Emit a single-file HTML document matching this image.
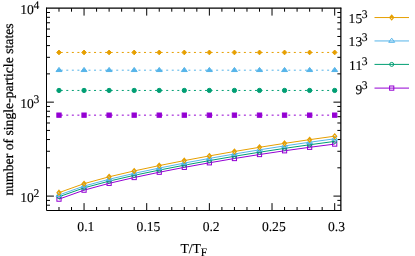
<!DOCTYPE html>
<html><head><meta charset="utf-8"><title>plot</title>
<style>
html,body{margin:0;padding:0;background:#fff;}
body{width:415px;height:256px;overflow:hidden;position:relative;}
.t{font-family:"Liberation Serif",serif;font-size:13.6px;text-rendering:geometricPrecision;fill:#000;stroke:#000;stroke-width:0.12px;}
.r{stroke-width:0.25px;font-size:13.7px;}
</style></head><body>
<svg width="415" height="256" viewBox="0 0 415 256" style="position:absolute;left:0;top:0;will-change:transform">
<path d="M58.99 210.5V207M58.99 8.2V11.7M71.52 210.5V207M71.52 8.2V11.7M84.05 210.5V203.1M84.05 8.2V15.6M96.58 210.5V207M96.58 8.2V11.7M109.11 210.5V207M109.11 8.2V11.7M121.65 210.5V207M121.65 8.2V11.7M134.18 210.5V207M134.18 8.2V11.7M146.71 210.5V203.1M146.71 8.2V15.6M159.24 210.5V207M159.24 8.2V11.7M171.77 210.5V207M171.77 8.2V11.7M184.31 210.5V207M184.31 8.2V11.7M196.84 210.5V207M196.84 8.2V11.7M209.37 210.5V203.1M209.37 8.2V15.6M221.9 210.5V207M221.9 8.2V11.7M234.43 210.5V207M234.43 8.2V11.7M246.97 210.5V207M246.97 8.2V11.7M259.5 210.5V207M259.5 8.2V11.7M272.03 210.5V203.1M272.03 8.2V15.6M284.56 210.5V207M284.56 8.2V11.7M297.09 210.5V207M297.09 8.2V11.7M309.63 210.5V207M309.63 8.2V11.7M322.16 210.5V207M322.16 8.2V11.7M334.69 210.5V203.1M334.69 8.2V15.6M46.5 205.2H50M340.85 205.2H337.35M46.5 200.4H50M340.85 200.4H337.35M46.5 196.1H53.9M340.85 196.1H333.45M46.5 167.82H50M340.85 167.82H337.35M46.5 151.27H50M340.85 151.27H337.35M46.5 139.54H50M340.85 139.54H337.35M46.5 130.43H50M340.85 130.43H337.35M46.5 122.99H50M340.85 122.99H337.35M46.5 116.7H50M340.85 116.7H337.35M46.5 111.25H50M340.85 111.25H337.35M46.5 106.45H50M340.85 106.45H337.35M46.5 102.15H53.9M340.85 102.15H333.45M46.5 73.87H50M340.85 73.87H337.35M46.5 57.32H50M340.85 57.32H337.35M46.5 45.59H50M340.85 45.59H337.35M46.5 36.48H50M340.85 36.48H337.35M46.5 29.04H50M340.85 29.04H337.35M46.5 22.75H50M340.85 22.75H337.35M46.5 17.3H50M340.85 17.3H337.35M46.5 12.5H50M340.85 12.5H337.35" fill="none" stroke="#000" stroke-width="1"/>
<clipPath id="c"><rect x="46.5" y="8.2" width="294.35" height="202.3"/></clipPath>
<path d="M58.99 115.15H334.69" stroke="#9400d3" stroke-width="1" stroke-dasharray="2 3.55" stroke-dashoffset="-1.75" fill="none"/>
<rect x="56.84" y="113" width="4.3" height="4.3" fill="#9400d3" stroke="#9400d3" stroke-width="1"/>
<rect x="81.9" y="113" width="4.3" height="4.3" fill="#9400d3" stroke="#9400d3" stroke-width="1"/>
<rect x="106.96" y="113" width="4.3" height="4.3" fill="#9400d3" stroke="#9400d3" stroke-width="1"/>
<rect x="132.03" y="113" width="4.3" height="4.3" fill="#9400d3" stroke="#9400d3" stroke-width="1"/>
<rect x="157.09" y="113" width="4.3" height="4.3" fill="#9400d3" stroke="#9400d3" stroke-width="1"/>
<rect x="182.16" y="113" width="4.3" height="4.3" fill="#9400d3" stroke="#9400d3" stroke-width="1"/>
<rect x="207.22" y="113" width="4.3" height="4.3" fill="#9400d3" stroke="#9400d3" stroke-width="1"/>
<rect x="232.28" y="113" width="4.3" height="4.3" fill="#9400d3" stroke="#9400d3" stroke-width="1"/>
<rect x="257.35" y="113" width="4.3" height="4.3" fill="#9400d3" stroke="#9400d3" stroke-width="1"/>
<rect x="282.41" y="113" width="4.3" height="4.3" fill="#9400d3" stroke="#9400d3" stroke-width="1"/>
<rect x="307.48" y="113" width="4.3" height="4.3" fill="#9400d3" stroke="#9400d3" stroke-width="1"/>
<rect x="332.54" y="113" width="4.3" height="4.3" fill="#9400d3" stroke="#9400d3" stroke-width="1"/>
<path d="M58.99 90.45H334.69" stroke="#009e73" stroke-width="1" stroke-dasharray="2 3.55" stroke-dashoffset="-1.75" fill="none"/>
<circle cx="58.99" cy="90.45" r="2.15" fill="#009e73" stroke="#009e73" stroke-width="1"/>
<circle cx="84.05" cy="90.45" r="2.15" fill="#009e73" stroke="#009e73" stroke-width="1"/>
<circle cx="109.11" cy="90.45" r="2.15" fill="#009e73" stroke="#009e73" stroke-width="1"/>
<circle cx="134.18" cy="90.45" r="2.15" fill="#009e73" stroke="#009e73" stroke-width="1"/>
<circle cx="159.24" cy="90.45" r="2.15" fill="#009e73" stroke="#009e73" stroke-width="1"/>
<circle cx="184.31" cy="90.45" r="2.15" fill="#009e73" stroke="#009e73" stroke-width="1"/>
<circle cx="209.37" cy="90.45" r="2.15" fill="#009e73" stroke="#009e73" stroke-width="1"/>
<circle cx="234.43" cy="90.45" r="2.15" fill="#009e73" stroke="#009e73" stroke-width="1"/>
<circle cx="259.5" cy="90.45" r="2.15" fill="#009e73" stroke="#009e73" stroke-width="1"/>
<circle cx="284.56" cy="90.45" r="2.15" fill="#009e73" stroke="#009e73" stroke-width="1"/>
<circle cx="309.63" cy="90.45" r="2.15" fill="#009e73" stroke="#009e73" stroke-width="1"/>
<circle cx="334.69" cy="90.45" r="2.15" fill="#009e73" stroke="#009e73" stroke-width="1"/>
<path d="M58.99 70.2H334.69" stroke="#56b4e9" stroke-width="1" stroke-dasharray="2 3.55" stroke-dashoffset="-1.75" fill="none"/>
<path d="M58.99 67.4L61.99 71.55L55.99 71.55Z" fill="#56b4e9" stroke="#56b4e9" stroke-width="1"/>
<path d="M84.05 67.4L87.05 71.55L81.05 71.55Z" fill="#56b4e9" stroke="#56b4e9" stroke-width="1"/>
<path d="M109.11 67.4L112.11 71.55L106.11 71.55Z" fill="#56b4e9" stroke="#56b4e9" stroke-width="1"/>
<path d="M134.18 67.4L137.18 71.55L131.18 71.55Z" fill="#56b4e9" stroke="#56b4e9" stroke-width="1"/>
<path d="M159.24 67.4L162.24 71.55L156.24 71.55Z" fill="#56b4e9" stroke="#56b4e9" stroke-width="1"/>
<path d="M184.31 67.4L187.31 71.55L181.31 71.55Z" fill="#56b4e9" stroke="#56b4e9" stroke-width="1"/>
<path d="M209.37 67.4L212.37 71.55L206.37 71.55Z" fill="#56b4e9" stroke="#56b4e9" stroke-width="1"/>
<path d="M234.43 67.4L237.43 71.55L231.43 71.55Z" fill="#56b4e9" stroke="#56b4e9" stroke-width="1"/>
<path d="M259.5 67.4L262.5 71.55L256.5 71.55Z" fill="#56b4e9" stroke="#56b4e9" stroke-width="1"/>
<path d="M284.56 67.4L287.56 71.55L281.56 71.55Z" fill="#56b4e9" stroke="#56b4e9" stroke-width="1"/>
<path d="M309.63 67.4L312.63 71.55L306.63 71.55Z" fill="#56b4e9" stroke="#56b4e9" stroke-width="1"/>
<path d="M334.69 67.4L337.69 71.55L331.69 71.55Z" fill="#56b4e9" stroke="#56b4e9" stroke-width="1"/>
<path d="M58.99 52.45H334.69" stroke="#e69f00" stroke-width="1" stroke-dasharray="2 3.55" stroke-dashoffset="-1.75" fill="none"/>
<path d="M58.99 50.05L61.29 52.45L58.99 54.85L56.69 52.45Z" fill="#e69f00" stroke="#e69f00" stroke-width="1"/>
<path d="M84.05 50.05L86.35 52.45L84.05 54.85L81.75 52.45Z" fill="#e69f00" stroke="#e69f00" stroke-width="1"/>
<path d="M109.11 50.05L111.41 52.45L109.11 54.85L106.81 52.45Z" fill="#e69f00" stroke="#e69f00" stroke-width="1"/>
<path d="M134.18 50.05L136.48 52.45L134.18 54.85L131.88 52.45Z" fill="#e69f00" stroke="#e69f00" stroke-width="1"/>
<path d="M159.24 50.05L161.54 52.45L159.24 54.85L156.94 52.45Z" fill="#e69f00" stroke="#e69f00" stroke-width="1"/>
<path d="M184.31 50.05L186.61 52.45L184.31 54.85L182.01 52.45Z" fill="#e69f00" stroke="#e69f00" stroke-width="1"/>
<path d="M209.37 50.05L211.67 52.45L209.37 54.85L207.07 52.45Z" fill="#e69f00" stroke="#e69f00" stroke-width="1"/>
<path d="M234.43 50.05L236.73 52.45L234.43 54.85L232.13 52.45Z" fill="#e69f00" stroke="#e69f00" stroke-width="1"/>
<path d="M259.5 50.05L261.8 52.45L259.5 54.85L257.2 52.45Z" fill="#e69f00" stroke="#e69f00" stroke-width="1"/>
<path d="M284.56 50.05L286.86 52.45L284.56 54.85L282.26 52.45Z" fill="#e69f00" stroke="#e69f00" stroke-width="1"/>
<path d="M309.63 50.05L311.93 52.45L309.63 54.85L307.33 52.45Z" fill="#e69f00" stroke="#e69f00" stroke-width="1"/>
<path d="M334.69 50.05L336.99 52.45L334.69 54.85L332.39 52.45Z" fill="#e69f00" stroke="#e69f00" stroke-width="1"/>
<path d="M58.99 199.14L84.05 190.16L109.11 183.35L134.18 177.52L159.24 172.25L184.31 167.37L209.37 162.81L234.43 158.53L259.5 154.53L284.56 150.79L309.63 147.31L334.69 144.08" stroke="#9400d3" stroke-width="1" fill="none"/>
<rect x="56.89" y="197.04" width="4.2" height="4.2" fill="none" stroke="#9400d3" stroke-width="1"/>
<rect x="81.95" y="188.06" width="4.2" height="4.2" fill="none" stroke="#9400d3" stroke-width="1"/>
<rect x="107.01" y="181.25" width="4.2" height="4.2" fill="none" stroke="#9400d3" stroke-width="1"/>
<rect x="132.08" y="175.42" width="4.2" height="4.2" fill="none" stroke="#9400d3" stroke-width="1"/>
<rect x="157.14" y="170.15" width="4.2" height="4.2" fill="none" stroke="#9400d3" stroke-width="1"/>
<rect x="182.21" y="165.27" width="4.2" height="4.2" fill="none" stroke="#9400d3" stroke-width="1"/>
<rect x="207.27" y="160.71" width="4.2" height="4.2" fill="none" stroke="#9400d3" stroke-width="1"/>
<rect x="232.33" y="156.43" width="4.2" height="4.2" fill="none" stroke="#9400d3" stroke-width="1"/>
<rect x="257.4" y="152.43" width="4.2" height="4.2" fill="none" stroke="#9400d3" stroke-width="1"/>
<rect x="282.46" y="148.69" width="4.2" height="4.2" fill="none" stroke="#9400d3" stroke-width="1"/>
<rect x="307.53" y="145.21" width="4.2" height="4.2" fill="none" stroke="#9400d3" stroke-width="1"/>
<rect x="332.59" y="141.98" width="4.2" height="4.2" fill="none" stroke="#9400d3" stroke-width="1"/>
<path d="M58.99 196.74L84.05 187.86L109.11 181.11L134.18 175.33L159.24 170.08L184.31 165.2L209.37 160.61L234.43 156.28L259.5 152.2L284.56 148.36L309.63 144.76L334.69 141.38" stroke="#009e73" stroke-width="1" fill="none"/>
<circle cx="58.99" cy="196.74" r="2.0" fill="none" stroke="#009e73" stroke-width="1"/>
<circle cx="84.05" cy="187.86" r="2.0" fill="none" stroke="#009e73" stroke-width="1"/>
<circle cx="109.11" cy="181.11" r="2.0" fill="none" stroke="#009e73" stroke-width="1"/>
<circle cx="134.18" cy="175.33" r="2.0" fill="none" stroke="#009e73" stroke-width="1"/>
<circle cx="159.24" cy="170.08" r="2.0" fill="none" stroke="#009e73" stroke-width="1"/>
<circle cx="184.31" cy="165.2" r="2.0" fill="none" stroke="#009e73" stroke-width="1"/>
<circle cx="209.37" cy="160.61" r="2.0" fill="none" stroke="#009e73" stroke-width="1"/>
<circle cx="234.43" cy="156.28" r="2.0" fill="none" stroke="#009e73" stroke-width="1"/>
<circle cx="259.5" cy="152.2" r="2.0" fill="none" stroke="#009e73" stroke-width="1"/>
<circle cx="284.56" cy="148.36" r="2.0" fill="none" stroke="#009e73" stroke-width="1"/>
<circle cx="309.63" cy="144.76" r="2.0" fill="none" stroke="#009e73" stroke-width="1"/>
<circle cx="334.69" cy="141.38" r="2.0" fill="none" stroke="#009e73" stroke-width="1"/>
<path d="M58.99 195.04L84.05 186.07L109.11 179.25L134.18 173.38L159.24 168.06L184.31 163.09L209.37 158.42L234.43 154.01L259.5 149.84L284.56 145.92L309.63 142.24L334.69 138.78" stroke="#56b4e9" stroke-width="1" fill="none"/>
<path d="M58.99 192.24L61.99 196.39L55.99 196.39Z" fill="none" stroke="#56b4e9" stroke-width="1"/>
<path d="M84.05 183.27L87.05 187.42L81.05 187.42Z" fill="none" stroke="#56b4e9" stroke-width="1"/>
<path d="M109.11 176.45L112.11 180.6L106.11 180.6Z" fill="none" stroke="#56b4e9" stroke-width="1"/>
<path d="M134.18 170.58L137.18 174.73L131.18 174.73Z" fill="none" stroke="#56b4e9" stroke-width="1"/>
<path d="M159.24 165.26L162.24 169.41L156.24 169.41Z" fill="none" stroke="#56b4e9" stroke-width="1"/>
<path d="M184.31 160.29L187.31 164.44L181.31 164.44Z" fill="none" stroke="#56b4e9" stroke-width="1"/>
<path d="M209.37 155.62L212.37 159.77L206.37 159.77Z" fill="none" stroke="#56b4e9" stroke-width="1"/>
<path d="M234.43 151.21L237.43 155.36L231.43 155.36Z" fill="none" stroke="#56b4e9" stroke-width="1"/>
<path d="M259.5 147.04L262.5 151.19L256.5 151.19Z" fill="none" stroke="#56b4e9" stroke-width="1"/>
<path d="M284.56 143.12L287.56 147.27L281.56 147.27Z" fill="none" stroke="#56b4e9" stroke-width="1"/>
<path d="M309.63 139.44L312.63 143.59L306.63 143.59Z" fill="none" stroke="#56b4e9" stroke-width="1"/>
<path d="M334.69 135.98L337.69 140.13L331.69 140.13Z" fill="none" stroke="#56b4e9" stroke-width="1"/>
<path d="M58.99 192.64L84.05 183.66L109.11 176.81L134.18 170.93L159.24 165.58L184.31 160.6L209.37 155.91L234.43 151.48L259.5 147.3L284.56 143.36L309.63 139.66L334.69 136.18" stroke="#e69f00" stroke-width="1" fill="none"/>
<path d="M58.99 190.34L60.94 192.64L58.99 194.94L57.04 192.64Z" fill="none" stroke="#e69f00" stroke-width="1.25"/>
<path d="M84.05 181.36L86 183.66L84.05 185.96L82.1 183.66Z" fill="none" stroke="#e69f00" stroke-width="1.25"/>
<path d="M109.11 174.51L111.06 176.81L109.11 179.11L107.16 176.81Z" fill="none" stroke="#e69f00" stroke-width="1.25"/>
<path d="M134.18 168.63L136.13 170.93L134.18 173.23L132.23 170.93Z" fill="none" stroke="#e69f00" stroke-width="1.25"/>
<path d="M159.24 163.28L161.19 165.58L159.24 167.88L157.29 165.58Z" fill="none" stroke="#e69f00" stroke-width="1.25"/>
<path d="M184.31 158.3L186.26 160.6L184.31 162.9L182.36 160.6Z" fill="none" stroke="#e69f00" stroke-width="1.25"/>
<path d="M209.37 153.61L211.32 155.91L209.37 158.21L207.42 155.91Z" fill="none" stroke="#e69f00" stroke-width="1.25"/>
<path d="M234.43 149.18L236.38 151.48L234.43 153.78L232.48 151.48Z" fill="none" stroke="#e69f00" stroke-width="1.25"/>
<path d="M259.5 145L261.45 147.3L259.5 149.6L257.55 147.3Z" fill="none" stroke="#e69f00" stroke-width="1.25"/>
<path d="M284.56 141.06L286.51 143.36L284.56 145.66L282.61 143.36Z" fill="none" stroke="#e69f00" stroke-width="1.25"/>
<path d="M309.63 137.36L311.58 139.66L309.63 141.96L307.68 139.66Z" fill="none" stroke="#e69f00" stroke-width="1.25"/>
<path d="M334.69 133.88L336.64 136.18L334.69 138.48L332.74 136.18Z" fill="none" stroke="#e69f00" stroke-width="1.25"/>
<path d="M46.5 8.2V210.5H340.85" fill="none" stroke="#000" stroke-width="1" stroke-linecap="square"/>
<path d="M340.85 7.7V211" fill="none" stroke="#000" stroke-width="1.25"/>
<path d="M46 8.2H341.35" fill="none" stroke="#000" stroke-width="1.3"/>
<path d="M374.5 17.55H409" stroke="#e69f00" stroke-width="1" fill="none"/>
<path d="M391.7 15.25L393.65 17.55L391.7 19.85L389.75 17.55Z" fill="none" stroke="#e69f00" stroke-width="1.25"/>
<text x="367.6" y="23" text-anchor="end" class="t">15<tspan dy="-5" dx="-0.4" font-size="11.6">3</tspan></text>
<path d="M374.5 40.95H409" stroke="#56b4e9" stroke-width="1" fill="none"/>
<path d="M391.7 38.15L394.7 42.3L388.7 42.3Z" fill="none" stroke="#56b4e9" stroke-width="1"/>
<text x="367.6" y="46" text-anchor="end" class="t">13<tspan dy="-5" dx="-0.4" font-size="11.6">3</tspan></text>
<path d="M374.5 64.4H409" stroke="#009e73" stroke-width="1" fill="none"/>
<circle cx="391.7" cy="64.4" r="2.0" fill="none" stroke="#009e73" stroke-width="1"/>
<text x="367.6" y="70" text-anchor="end" class="t">11<tspan dy="-5" dx="-0.4" font-size="11.6">3</tspan></text>
<path d="M374.5 88.1H409" stroke="#9400d3" stroke-width="1" fill="none"/>
<rect x="389.6" y="86" width="4.2" height="4.2" fill="none" stroke="#9400d3" stroke-width="1"/>
<text x="367.6" y="94" text-anchor="end" class="t">9<tspan dy="-5" dx="-0.4" font-size="11.6">3</tspan></text>
<text x="39.3" y="14" text-anchor="end" class="t">10<tspan dy="-5" dx="-0.4" font-size="11.6">4</tspan></text>
<text x="39.3" y="108" text-anchor="end" class="t">10<tspan dy="-5" dx="-0.4" font-size="11.6">3</tspan></text>
<text x="39.3" y="202" text-anchor="end" class="t">10<tspan dy="-5" dx="-0.4" font-size="11.6">2</tspan></text>
<text x="85.85" y="231" text-anchor="middle" class="t">0.1</text>
<text x="148.51" y="231" text-anchor="middle" class="t">0.15</text>
<text x="211.17" y="231" text-anchor="middle" class="t">0.2</text>
<text x="273.83" y="231" text-anchor="middle" class="t">0.25</text>
<text x="336.49" y="231" text-anchor="middle" class="t">0.3</text>
<text x="180.5" y="253" class="t">T/T<tspan dy="3.3" dx="-0.1" font-size="11.5">F</tspan></text>
<text transform="translate(13.3 109.5) rotate(-90)" text-anchor="middle" class="t r">number of single-particle states</text>
</svg>
</body></html>
